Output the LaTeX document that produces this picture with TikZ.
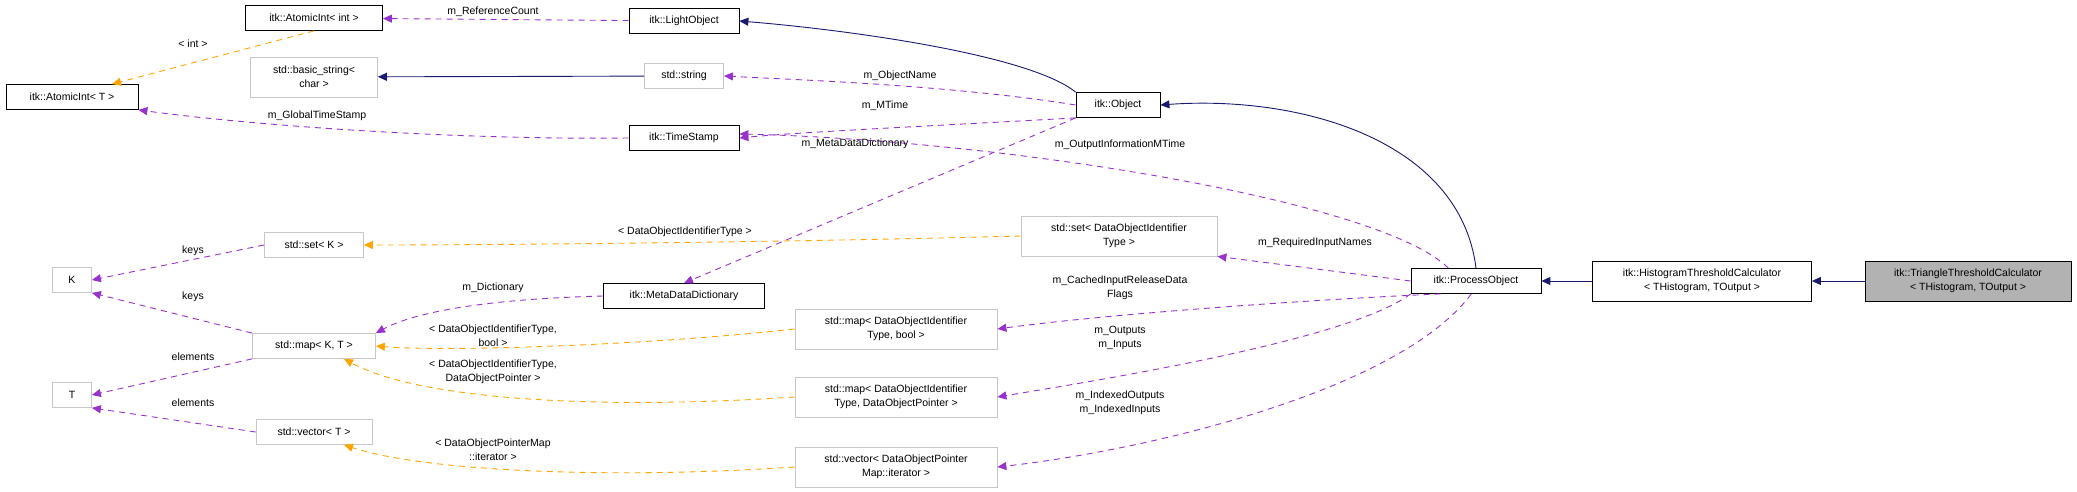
\documentclass[tikz,border=0pt]{standalone}
\usepackage{fontspec}
\setmainfont{Liberation Sans}
\usetikzlibrary{arrows.meta}
\definecolor{navy}{RGB}{25,25,112}
\definecolor{orchid}{RGB}{153,50,204}
\definecolor{amber}{RGB}{255,165,0}
\tikzset{
  cls/.style={draw=black,thick,fill=white,inner sep=1pt,minimum height=25pt,align=center,font=\fontsize{10.5}{14}\selectfont},
  ext/.style={cls,draw=black!22},
  lbl/.style={inner sep=0pt,align=center,font=\fontsize{10.5}{14}\selectfont},
  base/.style={navy,line width=0.9pt,-{Triangle[length=9pt,width=8pt]}},
  memb/.style={orchid,dashed,dash pattern=on 6pt off 5pt,line width=0.9pt,-{Triangle[length=9pt,width=8pt]}},
  tmpl/.style={amber,dashed,dash pattern=on 6pt off 5pt,line width=0.9pt,-{Triangle[length=9pt,width=8pt]}}
}
\begin{document}
\begin{tikzpicture}[x=1pt,y=-1pt]
  \useasboundingbox (0,0) rectangle (2077,492);
  % classes
  \node[cls,minimum width=137] (aint) at (314,18) {itk::AtomicInt< int >};
  \node[cls,minimum width=110] (light) at (684,21) {itk::LightObject};
  \node[ext,minimum width=127,minimum height=40] (bstr) at (314,77) {std::basic\_string<\\char >};
  \node[ext,minimum width=79] (str) at (684,76) {std::string};
  \node[cls,minimum width=132] (atomT) at (72,97) {itk::AtomicInt< T >};
  \node[cls,minimum width=110] (stamp) at (684,138) {itk::TimeStamp};
  \node[cls,minimum width=84] (obj) at (1118,105) {itk::Object};
  \node[ext,minimum width=99] (setK) at (314,245) {std::set< K >};
  \node[ext,minimum width=39] (K) at (72,280) {K};
  \node[cls,minimum width=161] (meta) at (684,296) {itk::MetaDataDictionary};
  \node[ext,minimum width=123] (mapKT) at (314,346) {std::map< K, T >};
  \node[ext,minimum width=39] (T) at (72,395) {T};
  \node[ext,minimum width=116] (vecT) at (314,432) {std::vector< T >};
  \node[ext,minimum width=196,minimum height=40] (setId) at (1119,236) {std::set< DataObjectIdentifier\\Type >};
  \node[ext,minimum width=202,minimum height=40] (mapBool) at (896,329) {std::map< DataObjectIdentifier\\Type, bool >};
  \node[ext,minimum width=202,minimum height=40] (mapPtr) at (896,397) {std::map< DataObjectIdentifier\\Type, DataObjectPointer >};
  \node[ext,minimum width=202,minimum height=40] (vecIt) at (896,467) {std::vector< DataObjectPointer\\Map::iterator >};
  \node[cls,minimum width=130] (proc) at (1476,281) {itk::ProcessObject};
  \node[cls,minimum width=219,minimum height=40] (hist) at (1702,281) {itk::HistogramThresholdCalculator\\< THistogram, TOutput >};
  \node[cls,fill=black!30,minimum width=206,minimum height=40] (tri) at (1968,281) {itk::TriangleThresholdCalculator\\< THistogram, TOutput >};
  % inheritance
  \draw[base] (tri) -- (hist);
  \draw[base] (hist) -- (proc);
  \draw[base] (proc.north) .. controls (1460,140) and (1300,95) .. (obj.east);
  \draw[base] (obj.north west) .. controls (1030,55) and (850,30) .. (light.east);
  \draw[base] (str) -- (bstr);
  % members
  \draw[memb] (light) -- (aint);
  \draw[memb] (obj.west) .. controls (950,85) and (800,80) .. (str.east);
  \draw[memb] (obj.south west) .. controls (950,125) and (800,132) .. (stamp.east);
  \draw[memb] (stamp.west) .. controls (450,140) and (250,125) .. (atomT.south east);
  \draw[memb] (proc.155) .. controls (1380,200) and (1000,140) .. ([yshift=4]stamp.east);
  \draw[memb] (obj.south west) -- (meta.north);
  \draw[memb] (proc.west) -- (setId.south east);
  \draw[memb] (proc.200) .. controls (1300,300) and (1100,315) .. (mapBool.east);
  \draw[memb] (proc.south west) .. controls (1350,340) and (1100,380) .. (mapPtr.east);
  \draw[memb] (proc.-110) .. controls (1400,390) and (1150,450) .. (vecIt.east);
  \draw[memb] (meta.west) .. controls (450,300) and (400,320) .. (mapKT.north east);
  \draw[memb] (setK.west) -- (K.east);
  \draw[memb] (mapKT.north west) -- (K.south east);
  \draw[memb] (mapKT.south west) -- (T.east);
  \draw[memb] (vecT.west) -- (T.south east);
  % templates
  \draw[tmpl] (aint.south) -- ([xshift=40]atomT.north);
  \draw[tmpl] (setId.west) .. controls (800,242) and (500,245) .. (setK.east);
  \draw[tmpl] (mapBool.west) .. controls (650,345) and (450,352) .. (mapKT.east);
  \draw[tmpl] (mapPtr.west) .. controls (600,410) and (420,400) .. ([xshift=30]mapKT.south);
  \draw[tmpl] (vecIt.west) .. controls (600,480) and (420,470) .. ([xshift=30]vecT.south);
  % labels
  \node[lbl] (lRef) at (493,12) {m\_ReferenceCount};
  \node[lbl] (lInt) at (193,44) {< int >};
  \node[lbl] (lGlob) at (317,116) {m\_GlobalTimeStamp};
  \node[lbl] (lName) at (900,76) {m\_ObjectName};
  \node[lbl] (lMTime) at (885,106) {m\_MTime};
  \node[lbl] (lMeta) at (855,144) {m\_MetaDataDictionary};
  \node[lbl] (lOut) at (1120,145) {m\_OutputInformationMTime};
  \node[lbl] (lSet) at (685,232) {< DataObjectIdentifierType >};
  \node[lbl] (lKeys) at (193,251) {keys};
  \node[lbl] (lKeys2) at (193,297) {keys};
  \node[lbl] (lElem) at (193,357) {elements};
  \node[lbl] (lElem2) at (193,403) {elements};
  \node[lbl] (lDict) at (493,288) {m\_Dictionary};
  \node[lbl] (lBool) at (493,336) {< DataObjectIdentifierType,\\bool >};
  \node[lbl] (lPtr) at (493,372) {< DataObjectIdentifierType,\\DataObjectPointer >};
  \node[lbl] (lIt) at (493,450) {< DataObjectPointerMap\\::iterator >};
  \node[lbl] (lReq) at (1315,243) {m\_RequiredInputNames};
  \node[lbl] (lCache) at (1120,288) {m\_CachedInputReleaseData\\Flags};
  \node[lbl] (lIO) at (1120,338) {m\_Outputs\\m\_Inputs};
  \node[lbl] (lIdx) at (1120,403) {m\_IndexedOutputs\\m\_IndexedInputs};
\end{tikzpicture}
\end{document}
